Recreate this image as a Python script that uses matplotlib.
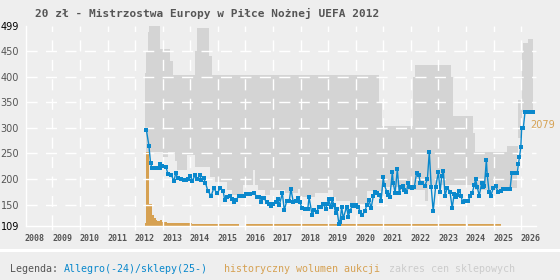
import numpy as np
import matplotlib
matplotlib.use('Agg')
import matplotlib.pyplot as plt
from matplotlib.patches import Rectangle
import matplotlib.transforms as mtransforms

# prices Allegro/shops (zl), x in years
price_x = [2012.06, 2012.15, 2012.21, 2012.26, 2012.31, 2012.36, 2012.41, 2012.46, 2012.50, 2012.54,
           2012.56, 2012.62, 2012.77, 2012.84, 2012.96, 2013.06, 2013.12, 2013.21, 2013.32, 2013.41,
           2013.51, 2013.57, 2013.65, 2013.72, 2013.83, 2013.90, 2014.00, 2014.05, 2014.14, 2014.20,
           2014.29, 2014.41, 2014.50, 2014.62, 2014.74, 2014.84, 2014.90, 2014.99, 2015.08, 2015.16,
           2015.24, 2015.32, 2015.41, 2015.47, 2015.53, 2015.60, 2015.66, 2015.74, 2015.82, 2015.96,
           2016.08, 2016.15, 2016.22, 2016.28, 2016.32, 2016.42, 2016.51, 2016.57, 2016.66, 2016.76,
           2016.82, 2016.88, 2016.99, 2017.06, 2017.15, 2017.24, 2017.30, 2017.39, 2017.47, 2017.57,
           2017.63, 2017.70, 2017.81, 2017.86, 2017.91, 2017.96, 2018.07, 2018.14, 2018.24, 2018.31,
           2018.38, 2018.47, 2018.56, 2018.62, 2018.67, 2018.74, 2018.80, 2018.86, 2018.92, 2018.97,
           2019.04, 2019.08, 2019.14, 2019.20, 2019.32, 2019.38, 2019.44, 2019.53, 2019.60, 2019.66,
           2019.74, 2019.81, 2019.89, 2019.99, 2020.05, 2020.13, 2020.21, 2020.29, 2020.36, 2020.43,
           2020.51, 2020.57, 2020.65, 2020.69, 2020.78, 2020.83, 2020.89, 2020.98, 2021.01, 2021.08,
           2021.16, 2021.23, 2021.29, 2021.36, 2021.41, 2021.49, 2021.56, 2021.62, 2021.68, 2021.78,
           2021.86, 2021.94, 2021.99, 2022.07, 2022.15, 2022.25, 2022.32, 2022.39, 2022.46, 2022.55,
           2022.65, 2022.71, 2022.77, 2022.83, 2022.89, 2022.97, 2023.07, 2023.15, 2023.22, 2023.29,
           2023.34, 2023.41, 2023.47, 2023.53, 2023.61, 2023.67, 2023.73, 2023.80, 2023.88, 2023.95,
           2024.00, 2024.06, 2024.13, 2024.22, 2024.26, 2024.32, 2024.39, 2024.42, 2024.49, 2024.55,
           2024.64, 2024.73, 2024.82, 2024.91, 2025.00, 2025.06, 2025.12, 2025.19, 2025.25, 2025.31,
           2025.36, 2025.41, 2025.46, 2025.51, 2025.55, 2025.59, 2025.64, 2025.67, 2025.73, 2025.79,
           2025.85, 2025.91, 2025.97, 2026.03, 2026.09]
price_y = [295, 265, 231, 221, 221, 221, 221, 221, 221, 221,
           229, 225, 223, 210, 208, 196, 211, 201, 199, 197,
           197, 199, 206, 196, 208, 199, 208, 197, 201, 193,
           176, 167, 182, 172, 182, 177, 159, 164, 167, 160,
           154, 159, 167, 167, 167, 167, 170, 170, 170, 172,
           165, 165, 154, 163, 163, 154, 151, 147, 152, 154,
           160, 149, 172, 139, 157, 157, 180, 154, 156, 162,
           154, 143, 141, 141, 141, 164, 129, 139, 136, 145,
           146, 152, 141, 152, 160, 145, 160, 149, 133, 141,
           112, 116, 145, 123, 146, 126, 137, 149, 147, 149,
           146, 136, 130, 137, 149, 159, 143, 167, 175, 172,
           169, 157, 203, 188, 175, 169, 165, 214, 193, 172,
           219, 173, 185, 186, 179, 175, 193, 184, 183, 185,
           212, 208, 193, 192, 186, 199, 253, 184, 137, 185,
           213, 175, 205, 216, 167, 183, 175, 143, 170, 165,
           169, 177, 167, 154, 157, 157, 157, 167, 173, 188,
           199, 184, 167, 192, 185, 186, 238, 208, 174, 167,
           182, 186, 174, 176, 180, 180, 180, 180, 180, 211,
           211, 211, 211, 211, 229, 242, 263, 300, 300, 330,
           330, 330, 330, 330, 330]

# shop price range (steps)
band_top_x = [2012.00, 2012.05, 2012.10, 2012.15, 2012.55, 2012.91, 2013.02, 2013.82, 2013.89,
              2014.33, 2014.44, 2020.51, 2020.62, 2021.74, 2021.80, 2023.10, 2023.17, 2023.89,
              2023.98, 2025.13, 2025.55, 2025.67, 2025.73, 2025.89]
band_top = [407, 449, 488, 499, 454, 430, 403, 450, 496,
            440, 403, 350, 304, 400, 423, 400, 323, 290,
            253, 265, 355, 446, 465, 474]
band_low_x = [2012.00, 2012.05, 2012.67, 2012.85, 2013.10, 2013.16, 2013.52, 2013.82, 2014.37,
              2014.55, 2014.97, 2015.15, 2015.57, 2015.91, 2015.98, 2016.11, 2016.36, 2016.54,
              2017.09, 2017.57, 2017.63, 2018.17, 2018.66, 2018.84, 2018.94, 2019.44, 2020.05,
              2020.65, 2021.26, 2022.16, 2022.28, 2023.98, 2025.13, 2025.49, 2025.55, 2025.67]
band_low = [300, 253, 242, 253, 235, 218, 247, 224, 204,
            194, 178, 169, 188, 218, 188, 178, 169, 178,
            172, 180, 165, 172, 178, 165, 156, 152, 176,
            185, 178, 156, 188, 178, 182, 250, 280, 330]
band_end = 2026.07

# auction volume (steps)
vol_x = [2012.00, 2012.05, 2012.16, 2012.27, 2012.34, 2012.39, 2012.45, 2012.55, 2012.64, 2012.82,
         2013.12, 2013.37, 2013.72, 2015.42, 2015.64, 2023.65, 2023.72, 2024.92]
vol = [55, 2079, 437, 208, 160, 114, 94, 114, 79, 58,
       46, 58, 40, 0, 40, 0, 40, 0]

years = list(range(2008, 2027))
y_ticks = [109, 150, 200, 250, 300, 350, 400, 450, 499]
grid_x = [y + 0.653 for y in years[:-1]]
grid_y = y_ticks[1:-1]

BG = '#eeeeee'
BAND = '#d4d4d4'
BLUE = '#0a88cc'
ORANGE = '#d6a152'
GREY = '#555555'

W, H = 560, 280
XLIM = (2007.692, 2026.19)
YLIM = (109, 499)
rect = [26 / W, 1 - 225.5 / H, (536 - 26) / W, (225.5 - 26) / H]

fig = plt.figure(figsize=(5.6, 2.8), dpi=100, facecolor=BG)

# auction volume on its own scale (bottom layer)
axv = fig.add_axes(rect, zorder=0)
axv.patch.set_visible(False)
axv.set_axis_off()
vx = np.r_[vol_x, vol_x[-1]]
vy = np.r_[vol, vol[-1]]
axv.fill_between(vx, 0, vy, step='post', facecolor=ORANGE, edgecolor='none')
axv.set_xlim(*XLIM)
axv.set_ylim(0, 4125)
axv.text(2025.97, 2079, str(max(vol)), color=ORANGE, fontsize=7, va='center', ha='left',
         clip_on=False)

# shop price band + axes
ax = fig.add_axes(rect, zorder=1)
ax.patch.set_visible(False)
edges = np.unique(np.r_[band_top_x, band_low_x, band_end])
top = np.array(band_top)[np.searchsorted(band_top_x, edges, side='right') - 1]
low = np.array(band_low)[np.searchsorted(band_low_x, edges, side='right') - 1]
ax.fill_between(edges, low, top, step='post', facecolor=BAND, edgecolor='none', zorder=1)
ax.set_xlim(*XLIM)
ax.set_ylim(*YLIM)

# dashed white grid, above the band
for v in grid_y:
    ax.plot(XLIM, [v, v], color='white', lw=1.0, ls=(0, (8, 6)), zorder=2, clip_on=False,
            scalex=False, scaley=False)
for x in grid_x:
    ax.plot([x, x], YLIM, color='white', lw=1.0, ls=(0, (8, 6)), zorder=2, clip_on=False,
            scalex=False, scaley=False)

# price line
ax.plot(price_x, price_y, color=BLUE, lw=1.0, marker='s', ms=2.4, mew=0, zorder=3)

ax.set_xticks(years)
ax.set_xticklabels([str(y) for y in years], fontfamily='DejaVu Sans Mono', fontweight='bold',
                   fontsize=6, color=GREY)
ax.set_xticks(grid_x, minor=True)
ax.set_yticks(y_ticks)
ax.set_yticklabels([str(v) for v in y_ticks], fontsize=7)
for lab, v in zip(ax.get_yticklabels(), y_ticks):
    lab.set_color('black' if v in (109, 499) else GREY)
    lab.set_transform(lab.get_transform() +
                      mtransforms.ScaledTranslation(0, -2.5 / 100, fig.dpi_scale_trans))
ax.tick_params(which='major', length=0)
ax.tick_params(axis='x', which='major', pad=6)
ax.tick_params(axis='y', which='major', pad=5)
ax.tick_params(axis='x', which='minor', length=3, width=1, color='white', direction='out')
for k in ['top', 'right']:
    ax.spines[k].set_visible(False)
for k in ['left', 'bottom']:
    ax.spines[k].set_color('white')
    ax.spines[k].set_linewidth(1)

fig.text(35 / W, 1 - 16.7 / H, '20 zł - Mistrzostwa Europy w Piłce Nożnej UEFA 2012',
         fontfamily='DejaVu Sans Mono', fontweight='bold', fontsize=8, color=GREY, va='baseline')

fig.patches.append(Rectangle((0, 1 - 252 / H), 1, 3 / H, transform=fig.transFigure,
                             facecolor='white', edgecolor='none'))

leg_y = 1 - 271.5 / H
for px, txt, col in [(10, 'Legenda:', GREY), (64.3, 'Allegro(-24)/sklepy(25-)', BLUE),
                     (224, 'historyczny wolumen aukcji', ORANGE),
                     (389, 'zakres cen sklepowych', '#cccccc')]:
    fig.text(px / W, leg_y, txt, fontfamily='DejaVu Sans Mono', fontsize=7.2, color=col,
             va='baseline')

fig.savefig('out.png', dpi=100, facecolor=BG)
